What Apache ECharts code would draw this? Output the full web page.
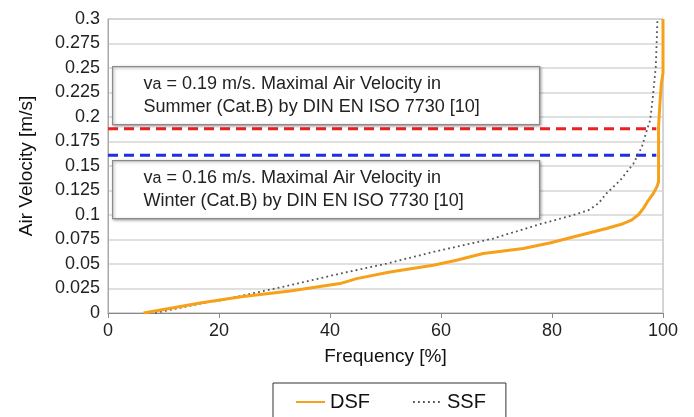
<!DOCTYPE html>
<html>
<head>
<meta charset="utf-8">
<script src="https://cdn.jsdelivr.net/npm/echarts@6/dist/echarts.min.js"></script>
<style>
html,body{margin:0;padding:0;background:#fff;}
#chart{width:694px;height:417px;}
</style>
</head>
<body>
<div id="chart"></div>
<script>
// ---- data ----
var dsfFreq = [6.4, 16.6, 24.0, 32.8, 41.8, 44.8, 50.8, 58.6, 62.8, 67.6, 74.8, 79.6, 83.8, 89.8, 92.5, 94.4, 95.6, 96.5, 97.3, 98.2, 98.9, 99.2, 99.2, 99.4, 99.7, 100, 100];
var dsfVel  = [0, 0.0102, 0.0165, 0.0225, 0.030, 0.0351, 0.0419, 0.0487, 0.0538, 0.0607, 0.0658, 0.0715, 0.0776, 0.0862, 0.0905, 0.095, 0.1005, 0.107, 0.1145, 0.1215, 0.1287, 0.134, 0.19, 0.21, 0.234, 0.245, 0.3];
var ssfFreq = [8.5, 16.6, 20.3, 32.8, 41.8, 50.2, 58.6, 69.4, 77.8, 83.8, 86.6, 88.4, 89.8, 92.3, 94.7, 96.2, 97.1, 97.7, 98.1, 98.7, 99.0];
var ssfVel  = [0, 0.0095, 0.013, 0.0283, 0.0402, 0.0504, 0.0623, 0.076, 0.0906, 0.0998, 0.105, 0.112, 0.122, 0.1355, 0.1526, 0.1696, 0.1866, 0.197, 0.217, 0.251, 0.3];
var limitFreq = [0, 98.8];
var summerLimit = 0.188;
var winterLimit = 0.161;
var seriesNames = ['DSF', 'SSF'];
var summerText = ['{v|v}{a|a}{t| = 0.19 m/s. Maximal Air Velocity in}', '{t|Summer (Cat.B) by DIN EN ISO 7730 [10]}'];
var winterText = ['{v|v}{a|a}{t| = 0.16 m/s. Maximal Air Velocity in}', '{t|Winter (Cat.B) by DIN EN ISO 7730 [10]}'];

function zip(a, b) { return a.map(function (v, i) { return [v, b[i]]; }); }

var FONT = '"Liberation Sans", Arial, Helvetica, sans-serif';
var chart = echarts.init(document.getElementById('chart'));

var richStyle = {
  v: { fontSize: 18, fontFamily: FONT, color: '#222', lineHeight: 23 },
  a: { fontSize: 16, fontFamily: FONT, color: '#222', lineHeight: 23 },
  t: { fontSize: 18, fontFamily: FONT, color: '#222', lineHeight: 23 }
};

function noteBox(top, lines) {
  return {
    type: 'group',
    left: 112,
    top: top,
    children: [
      {
        type: 'rect',
        shape: { x: 0, y: 0, width: 427, height: 58 },
        style: { fill: '#fff', stroke: '#8a8a8a', lineWidth: 1.2, shadowBlur: 3, shadowOffsetX: 1, shadowOffsetY: 1, shadowColor: 'rgba(0,0,0,0.35)' },
        z: 10
      },
      {
        type: 'text',
        x: 31,
        y: 6,
        style: { text: lines.join('\n'), rich: richStyle, fontFamily: FONT, fontSize: 18, fill: '#222' },
        z: 11
      }
    ]
  };
}

var option = {
  animation: false,
  backgroundColor: '#fff',
  textStyle: { fontFamily: FONT },
  grid: {
    left: 108, right: 31, top: 19, bottom: 104,
    show: true, borderColor: '#a8a8a8', borderWidth: 1, backgroundColor: 'transparent'
  },
  legend: {
    data: seriesNames,
    left: 273,
    top: 383,
    padding: [9, 20, 24, 22],
    itemGap: 42,
    itemWidth: 29,
    itemHeight: 14,
    borderColor: '#333',
    borderWidth: 1,
    itemStyle: { opacity: 0 },
    textStyle: { fontSize: 20, fontFamily: FONT, color: '#111' }
  },
  xAxis: {
    type: 'value',
    min: 0, max: 100, interval: 20,
    name: 'Frequency [%]',
    nameLocation: 'middle',
    nameGap: 34,
    nameTextStyle: { fontSize: 19, fontFamily: FONT, color: '#111' },
    axisLine: { show: true, lineStyle: { color: '#888', width: 1.2 } },
    axisTick: { show: true, length: 5, lineStyle: { color: '#888' } },
    axisLabel: { fontSize: 18, color: '#222', margin: 9, fontFamily: FONT },
    splitLine: { show: false }
  },
  yAxis: {
    type: 'value',
    min: 0, max: 0.3, interval: 0.025,
    name: 'Air Velocity [m/s]',
    nameLocation: 'middle',
    nameGap: 72,
    nameTextStyle: { fontSize: 19, fontFamily: FONT, color: '#111' },
    axisLine: { show: true, lineStyle: { color: '#a8a8a8', width: 1 } },
    axisTick: { show: false },
    axisLabel: { fontSize: 18, color: '#222', margin: 8, fontFamily: FONT },
    splitLine: { show: true, lineStyle: { color: '#d6d6d6', width: 1.5 } }
  },
  series: [
    {
      name: 'DSF', type: 'line', data: zip(dsfFreq, dsfVel),
      symbol: 'none', showSymbol: false,
      lineStyle: { color: '#f7a11a', width: 3 },
      itemStyle: { color: '#f7a11a' },
      z: 4
    },
    {
      name: 'SSF', type: 'line', data: zip(ssfFreq, ssfVel),
      symbol: 'none', showSymbol: false,
      lineStyle: { color: '#555', width: 1.8, type: [1.8, 3.2] },
      itemStyle: { color: '#555' },
      z: 3
    },
    {
      name: 'Summer', type: 'line', data: zip(limitFreq, [summerLimit, summerLimit]),
      symbol: 'none', showSymbol: false, silent: true,
      lineStyle: { color: '#ee2020', width: 3, type: [10, 6] },
      z: 2
    },
    {
      name: 'Winter', type: 'line', data: zip(limitFreq, [winterLimit, winterLimit]),
      symbol: 'none', showSymbol: false, silent: true,
      lineStyle: { color: '#1f2fdd', width: 3, type: [10, 6] },
      z: 2
    }
  ],
  graphic: [noteBox(66, summerText), noteBox(160, winterText)]
};
chart.setOption(option);
</script>
</body>
</html>
